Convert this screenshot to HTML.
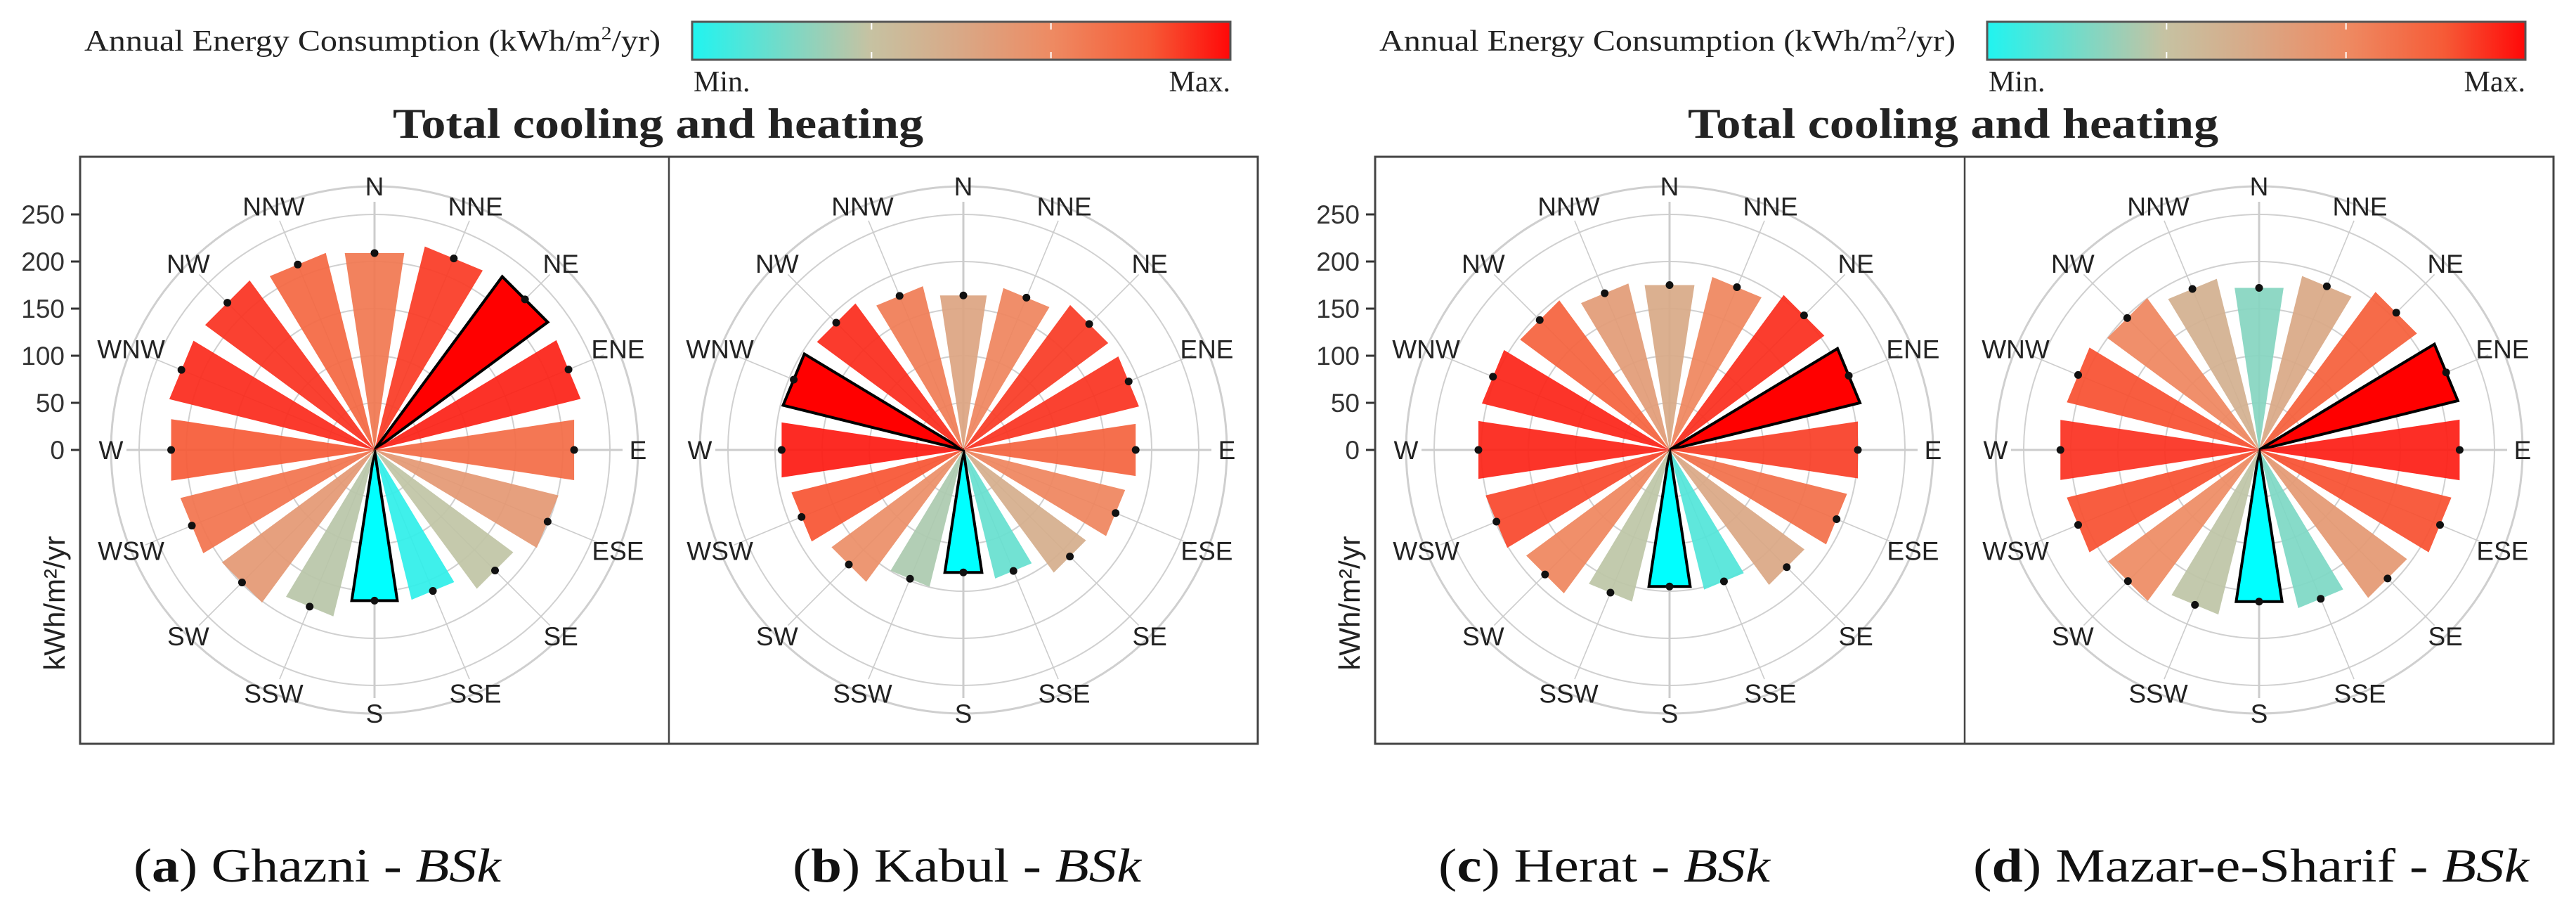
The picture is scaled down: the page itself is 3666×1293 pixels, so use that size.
<!DOCTYPE html>
<html><head><meta charset="utf-8">
<style>
html,body{margin:0;padding:0;background:#fff;}
svg{display:block;}
</style></head>
<body>
<svg id="fig" width="3666" height="1293" viewBox="0 0 3666 1293" xmlns="http://www.w3.org/2000/svg">
<defs>
<linearGradient id="cbar" x1="0" x2="1" y1="0" y2="0">
<stop offset="0" stop-color="#20f4f0"/>
<stop offset="0.33" stop-color="#c6c2a2"/>
<stop offset="0.5" stop-color="#d9a886"/>
<stop offset="0.67" stop-color="#ee8a62"/>
<stop offset="0.85" stop-color="#f65a36"/>
<stop offset="1" stop-color="#ff0808"/>
</linearGradient>
</defs>
<rect x="0" y="0" width="3666" height="1293" fill="#fff"/>
<g id="layer"></g>
</svg>
<script>
const directions = ["N","NNE","NE","ENE","E","ESE","SE","SSE","S","SSW","SW","WSW","W","WNW","NW","NNW"];
const ghazniValues = [209,220,226,223,212,199,181,162,160,180,199,210,216,222,221,213];
const kabulValues  = [164,175,189,190,183,175,160,139,130,148,172,186,193,195,191,177];
const heratValues  = [175,187,202,206,200,192,176,151,145,164,187,199,203,203,195,180];
const mazarValues  = [172,188,206,215,213,208,193,171,161,178,197,208,211,208,198,185];
const yTicks = [0,50,100,150,200,250];
const gridRings = [50,100,150,200,250];
const panelNames = ["ghazni","kabul","herat","mazar-e-sharif"];
const captionLetters = ["a","b","c","d"];
const captionCities = ["Ghazni","Kabul","Herat","Mazar-e-Sharif"];

const NS = "http://www.w3.org/2000/svg";
const layer = document.getElementById("layer");
const PX = 1.34;            // pixels per kWh/m²/yr
const OUTER = 375;          // outer ring / label radius
const HALF = 8.6 * Math.PI / 180;
const CY = 640;
const allValues = [ghazniValues, kabulValues, heratValues, mazarValues];
const centersX = [533, 1371, 2376, 3215];
const groups = [{left:114, right:1790, div:952}, {left:1957, right:3634, div:2796}];

function mk(tag, attrs, parent) {
  const e = document.createElementNS(NS, tag);
  for (const k in attrs) e.setAttribute(k, attrs[k]);
  (parent || layer).appendChild(e);
  return e;
}
function rScale(v) { return v * PX; }
function pt(cx, r, ang) { return [cx + r * Math.sin(ang), CY - r * Math.cos(ang)]; }
const stops = [[0,[32,244,240]],[0.33,[198,194,162]],[0.5,[217,168,134]],[0.67,[238,138,98]],[0.85,[246,90,54]],[1,[255,8,8]]];
function colorAt(t) {
  t = Math.max(0, Math.min(1, t));
  for (let i = 1; i < stops.length; i++) {
    if (t <= stops[i][0]) {
      const a = stops[i-1], b = stops[i];
      const f = (t - a[0]) / (b[0] - a[0]);
      const c = a[1].map((x, j) => Math.round(x + (b[1][j] - x) * f));
      return "rgb(" + c.join(",") + ")";
    }
  }
  return "rgb(255,8,8)";
}

// group-level decorations
groups.forEach((g, gi) => {
  const gx = g.left;
  const leg = mk("text", {x: gx + 6, y: 72, "font-family": "Liberation Serif, serif", "font-size": 42, fill: "#222", textLength: 820, lengthAdjust: "spacingAndGlyphs"});
  
  
  leg.innerHTML = 'Annual Energy Consumption (kWh/m<tspan font-size="26" dy="-16">2</tspan><tspan dy="16">/yr)</tspan>';
  const cbx = gx + 871, cbw = 766;
  const cb = mk("rect", {x: cbx, y: 31, width: cbw, height: 54, fill: "url(#cbar)", stroke: "#555", "stroke-width": 3});
  
  
  [1/3, 2/3].forEach(f => {
    const l1 = mk("line", {x1: cbx + cbw*f, x2: cbx + cbw*f, y1: 33, y2: 42, stroke: "#fff", "stroke-width": 2});
    
    
    const l2 = mk("line", {x1: cbx + cbw*f, x2: cbx + cbw*f, y1: 74, y2: 83, stroke: "#fff", "stroke-width": 2});
    
    
  });
  const mn = mk("text", {x: cbx + 2, y: 130, "font-family": "Liberation Serif, serif", "font-size": 42, fill: "#222"});
  
  
  mn.textContent = "Min.";
  const mx = mk("text", {x: cbx + cbw, y: 130, "text-anchor": "end", "font-family": "Liberation Serif, serif", "font-size": 42, fill: "#222"});
  
  
  mx.textContent = "Max.";
  const tt = mk("text", {x: gx + 445, y: 196, "font-family": "Liberation Serif, serif", "font-size": 60, "font-weight": "bold", fill: "#222", textLength: 755, lengthAdjust: "spacingAndGlyphs"});
  
  
  tt.textContent = "Total cooling and heating";
  // y axis ticks
  yTicks.forEach(v => {
    const y = CY - rScale(v);
    const tl = mk("text", {x: gx - 22, y: y + 13, "text-anchor": "end", "font-family": "Liberation Sans, sans-serif", "font-size": 37, fill: "#333"});
    
    
    tl.textContent = v;
    const tk = mk("line", {x1: gx - 13, x2: gx, y1: y, y2: y, stroke: "#333", "stroke-width": 3});
    
    
  });
  const yt = mk("text", {x: 0, y: 0, transform: "translate(" + (gx - 22) + ",858) rotate(-90)", "text-anchor": "middle", "font-family": "Liberation Sans, sans-serif", "font-size": 42, fill: "#222"});
  
  
  yt.textContent = "kWh/m²/yr";
});

// panels
allValues.forEach((vals, pi) => {
  const cx = centersX[pi];
  const pg = mk("g", {});
  
  
  gridRings.forEach(v => {
    const c = mk("circle", {cx: cx, cy: CY, r: rScale(v), fill: "none", stroke: "#d0d0d0", "stroke-width": 2}, pg);
    
    
  });
  const oc = mk("circle", {cx: cx, cy: CY, r: OUTER, fill: "none", stroke: "#cfcfcf", "stroke-width": 3}, pg);
  
  
  directions.forEach((d, i) => {
    const ang = i * Math.PI / 8;
    const p = pt(cx, OUTER - 22, ang);
    const sp = mk("line", {x1: cx, y1: CY, x2: p[0], y2: p[1], stroke: "#cccccc", "stroke-width": (i % 4 === 0 ? 3 : 1.6)}, pg);
    
    
  });
  const mn = Math.min(...vals), mxv = Math.max(...vals);
  const minI = vals.indexOf(mn), maxI = vals.indexOf(mxv);
  vals.forEach((v, i) => {
    const ang = i * Math.PI / 8;
    const r = rScale(v);
    const rc = r / Math.cos(HALF);
    const a = pt(cx, rc, ang - HALF), b = pt(cx, rc, ang + HALF);
    const ext = (i === minI || i === maxI);
    const fill = i === minI ? "#00ffff" : (i === maxI ? "#ff0000" : colorAt((v - mn) / (mxv - mn)));
    const bar = mk("polygon", {points: cx + "," + CY + " " + a.join(",") + " " + b.join(","), fill: fill, "fill-opacity": ext ? 1 : 0.92, stroke: ext ? "#000" : "none", "stroke-width": 4, "stroke-linejoin": "miter"}, pg);
    
    
  });
  vals.forEach((v, i) => {
    const p = pt(cx, rScale(v), i * Math.PI / 8);
    const dot = mk("circle", {cx: p[0], cy: p[1], r: 5.5, fill: "#111"}, pg);
    
    
  });
  directions.forEach((d, i) => {
    const p = pt(cx, OUTER, i * Math.PI / 8);
    const lb = mk("text", {x: p[0], y: p[1] + 13, "text-anchor": "middle", "font-family": "Liberation Sans, sans-serif", "font-size": 37, fill: "#222"}, pg);
    
    
    lb.textContent = d;
  });
});

// frames
groups.forEach(g => {
  const fr = mk("rect", {x: g.left, y: 223, width: g.right - g.left, height: 835, fill: "none", stroke: "#444", "stroke-width": 3});
  
  
  const dv = mk("line", {x1: g.div, x2: g.div, y1: 223, y2: 1058, stroke: "#444", "stroke-width": 2.5});
  
  
});

// captions
const capX = [190, 1128, 2047, 2808];
const capW = [523, 496, 472, 791];
captionLetters.forEach((l, i) => {
  const t = mk("text", {x: capX[i], y: 1254, "font-family": "Liberation Serif, serif", "font-size": 68, fill: "#111", textLength: capW[i], lengthAdjust: "spacingAndGlyphs"});
  
  
  t.innerHTML = '(<tspan font-weight="bold">' + l + '</tspan>) ' + captionCities[i] + ' - <tspan font-style="italic">BSk</tspan>';
});
</script>
</body></html>
